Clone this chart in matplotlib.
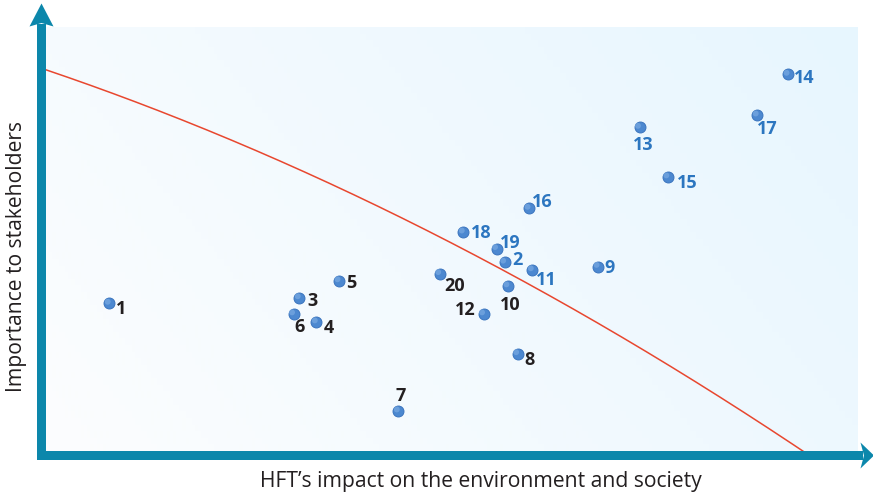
import numpy as np
import matplotlib
matplotlib.use("Agg")
import matplotlib.pyplot as plt
from matplotlib.patches import Polygon, Rectangle

# ---------------- data ----------------
issue_ids = ["1", "2", "3", "4", "5", "6", "7", "8", "9", "10",
             "11", "12", "13", "14", "15", "16", "17", "18", "19", "20"]
impact = [7.8, 56.5, 31.2, 33.3, 36.1, 30.5, 43.4, 58.1, 68.0, 56.9,
          59.9, 53.9, 73.1, 91.4, 76.6, 59.5, 87.6, 51.4, 55.5, 48.5]
importance = [34.8, 44.5, 36.1, 30.4, 40.1, 32.3, 9.4, 22.9, 43.5, 38.9,
              42.7, 32.3, 76.3, 88.8, 64.6, 57.2, 79.2, 51.6, 47.7, 41.8]
material = [False, True, False, False, False, False, False, False, True, False,
            True, False, True, True, True, True, True, True, True, False]
# materiality threshold curve: importance = c0 + c1*x + c2*x^2
threshold_coef = [89.9, -0.6487, -0.003389]

x_label = "HFT\u2019s impact on the environment and society"
y_label = "Importance to stakeholders"

# ---------------- styling / layout ----------------
W, H = 873, 495
label_offsets = {  # pixel offsets (dx right, dy down) of number labels
    "1": (12, 4), "2": (13, -4), "3": (13, 1), "4": (12, 4), "5": (12, 0),
    "6": (6, 11), "7": (2, -17), "8": (12, 4), "9": (11, -1), "10": (2, 17),
    "11": (14, 8), "12": (-18, -6), "13": (4, 16), "14": (16, 2), "15": (19, 4),
    "16": (13, -8), "17": (10, 12), "18": (18, -1), "19": (14, -8), "20": (15, 10),
}
AXIS_COLOR = "#0C87AB"
BLUE_TXT = "#2C76C0"
DARK_TXT = "#231F20"
RED = "#E8472F"
FONT = ["Open Sans", "DejaVu Sans"]

fig = plt.figure(figsize=(W / 100, H / 100), dpi=100)
fig.patch.set_facecolor("white")

px_l, px_r, px_t, px_b = 46, 858, 27, 451
ax = fig.add_axes([px_l / W, 1 - px_b / H, (px_r - px_l) / W, (px_b - px_t) / H])
ax.set_xlim(0, 100)
ax.set_ylim(0, 100)
ax.set_axis_off()

# background gradient
gx = np.linspace(0, 1, 256)
gy = np.linspace(0, 1, 64)
GX, GY = np.meshgrid(gx, gy)
t = np.clip(0.7 * GX + 0.3 * GY, 0, 1)
c0 = np.array([252, 253, 254]) / 255
c1 = np.array([231, 246, 254]) / 255
img = c0[None, None, :] * (1 - t[..., None]) + c1[None, None, :] * t[..., None]
ax.imshow(img, extent=[0, 100, 0, 100], origin="lower", aspect="auto", zorder=0)

# threshold curve
xs = np.linspace(0, 100, 400)
ys = threshold_coef[0] + threshold_coef[1] * xs + threshold_coef[2] * xs ** 2
mask = ys >= -1
ax.plot(xs[mask], ys[mask], color=RED, lw=1.1, zorder=2, clip_on=True)

# points
ax.scatter(impact, importance, s=62, color="#4C88D0", edgecolor="#3A74BE",
           linewidth=0.7, zorder=3)
ax.scatter(np.array(impact) - 0.2, np.array(importance) + 0.4, s=18,
           color="#79AAE2", edgecolor="none", zorder=4, alpha=0.7)

for i, lab in enumerate(issue_ids):
    dx, dy = label_offsets[lab]
    ax.annotate(lab, (impact[i], importance[i]), xytext=(dx, -dy),
                textcoords="offset pixels", ha="center", va="center_baseline",
                fontsize=13, fontweight="bold", family=FONT,
                color=BLUE_TXT if material[i] else DARK_TXT, zorder=5)

# arrow axes (overlay in pixel coords)
ov = fig.add_axes([0, 0, 1, 1], zorder=10)
ov.set_xlim(0, W)
ov.set_ylim(H, 0)
ov.set_axis_off()
ov.patch.set_alpha(0)
ov.add_patch(Rectangle((37, 24), 9, 436, color=AXIS_COLOR, lw=0))
ov.add_patch(Polygon([(29.5, 26.5), (41.5, 3.5), (53.5, 26.5), (41.5, 23)],
                     closed=True, color=AXIS_COLOR, lw=0))
ov.add_patch(Rectangle((37, 451), 826, 9, color=AXIS_COLOR, lw=0))
ov.add_patch(Polygon([(860.5, 442.5), (874, 455.5), (860.5, 468.5), (864, 455.5)],
                     closed=True, color=AXIS_COLOR, lw=0))

ov.text(481, 481, x_label, ha="center", va="center", fontsize=15.2,
        family=FONT, color=DARK_TXT)
ov.text(17, 256, y_label, ha="center", va="center", rotation=90, fontsize=15.2,
        family=FONT, color=DARK_TXT)

fig.savefig("out.png", dpi=100)
